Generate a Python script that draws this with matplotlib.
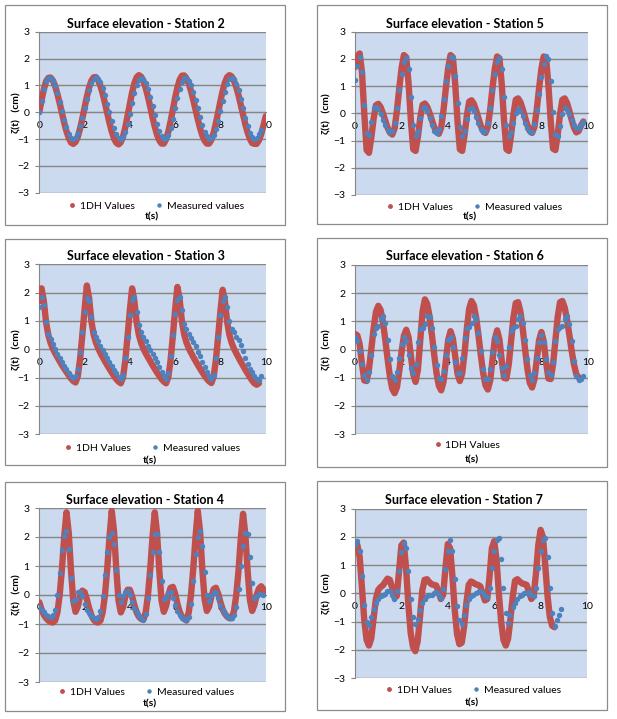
import matplotlib
matplotlib.use("Agg")
import matplotlib.pyplot as plt
import numpy as np
from matplotlib.patches import Rectangle
from matplotlib.lines import Line2D

plt.rcParams['font.family'] = ['Lato', 'DejaVu Sans']

W, H = 617, 719
dt = 0.1  # sampling step of the series below (s)

# ---- Station 2 ----
st2_model = [0.0, 0.45, 0.85, 1.15, 1.28, 1.29, 1.18, 0.97, 0.68, 0.34,
             -0.03, -0.39, -0.71, -0.96, -1.13, -1.18, -1.11, -0.92, -0.61, -0.24,
             0.17, 0.57, 0.92, 1.17, 1.30, 1.31, 1.19, 0.98, 0.69, 0.34,
             -0.03, -0.40, -0.72, -0.98, -1.14, -1.20, -1.12, -0.90, -0.56, -0.13,
             0.31, 0.74, 1.08, 1.30, 1.38, 1.32, 1.16, 0.90, 0.57, 0.20,
             -0.19, -0.54, -0.84, -1.05, -1.17, -1.17, -1.01, -0.72, -0.34, 0.10,
             0.54, 0.92, 1.21, 1.36, 1.37, 1.26, 1.07, 0.79, 0.46, 0.10,
             -0.26, -0.59, -0.87, -1.06, -1.17, -1.17, -1.03, -0.77, -0.41, -0.01,
             0.41, 0.80, 1.11, 1.31, 1.38, 1.33, 1.17, 0.93, 0.63, 0.27,
             -0.09, -0.45, -0.75, -0.99, -1.15, -1.18, -1.18, -1.05, -0.82, -0.50,
             -0.15]
st2_meas = [0.0, 0.40, 0.85, 1.15, 1.28, 1.27, 1.17, 0.98, 0.71, 0.39,
            0.05, -0.28, -0.57, -0.80, -0.95, -1.00, -0.94, -0.78, -0.53, -0.21,
            0.15, 0.51, 0.83, 1.08, 1.24, 1.30, 1.25, 1.12, 0.90, 0.63,
            0.31, -0.01, -0.33, -0.60, -0.82, -0.95, -1.00, -0.93, -0.73, -0.43,
            -0.06, 0.34, 0.71, 1.01, 1.21, 1.28, 1.23, 1.08, 0.85, 0.56,
            0.23, -0.11, -0.43, -0.70, -0.89, -0.99, -0.98, -0.85, -0.59, -0.25,
            0.14, 0.53, 0.87, 1.13, 1.26, 1.27, 1.18, 1.00, 0.76, 0.46,
            0.14, -0.18, -0.48, -0.72, -0.90, -0.99, -0.98, -0.86, -0.63, -0.32,
            0.05, 0.42, 0.76, 1.04, 1.22, 1.28, 1.22, 1.06, 0.81, 0.49,
            0.14, -0.21, -0.53, -0.78, -0.94, -1.00, -0.95, -0.82, -0.65]

# ---- Station 5 ----
st5_model = [1.70, 2.10, 2.20, 1.51, -0.03, -1.35, -1.45, -0.89, -0.19, 0.30,
             0.35, 0.23, 0.00, -0.27, -0.53, -0.71, -0.78, -0.55, 0.11, 0.92,
             1.67, 2.14, 2.06, 1.09, -0.29, -1.32, -1.38, -0.85, -0.17, 0.31,
             0.36, 0.24, 0.01, -0.25, -0.51, -0.69, -0.75, -0.52, 0.13, 0.93,
             1.67, 2.14, 2.06, 1.09, -0.29, -1.32, -1.38, -0.81, -0.09, 0.43,
             0.48, 0.35, 0.10, -0.18, -0.46, -0.65, -0.72, -0.50, 0.13, 0.92,
             1.64, 2.09, 2.02, 1.05, -0.30, -1.32, -1.38, -0.79, -0.04, 0.50,
             0.55, 0.41, 0.15, -0.15, -0.44, -0.65, -0.72, -0.50, 0.13, 0.92,
             1.64, 2.09, 2.02, 1.06, -0.29, -1.30, -1.35, -0.78, -0.03, 0.50,
             0.55, 0.38, 0.09, -0.24, -0.53, -0.70, -0.65, -0.45, -0.30]
st5_meas = [1.23, 1.75, 2.08, 1.53, 0.29, -0.71, -0.78, -0.30, 0.18, 0.24,
            0.15, -0.02, -0.23, -0.43, -0.60, -0.69, -0.66, -0.36, 0.19, 0.84,
            1.46, 1.89, 2.05, 1.63, 0.60, -0.43, -0.85, -0.64, -0.18, 0.20,
            0.23, 0.08, -0.17, -0.43, -0.64, -0.72, -0.56, -0.11, 0.53, 1.20,
            1.75, 2.08, 2.03, 1.38, 0.38, -0.50, -0.85, -0.65, -0.21, 0.15,
            0.18, 0.07, -0.13, -0.37, -0.57, -0.68, -0.66, -0.36, 0.19, 0.84,
            1.46, 1.89, 2.05, 1.63, 0.60, -0.43, -0.85, -0.70, -0.35, 0.00,
            0.15, 0.08, -0.10, -0.34, -0.55, -0.68, -0.67, -0.40, 0.11, 0.71,
            1.32, 1.82, 2.09, 2.01, 1.19, 0.05, -0.77, -0.83, -0.47, -0.02,
            0.18, 0.12, -0.04, -0.24, -0.42, -0.54, -0.52, -0.42, -0.32]

# ---- Station 3 ----
st3_model = [1.70, 2.15, 1.70, 0.95, 0.50, 0.22, 0.02, -0.14, -0.28, -0.42,
             -0.56, -0.68, -0.80, -0.92, -1.03, -1.12, -1.17, -0.95, -0.35, 0.50,
             1.40, 2.25, 1.80, 1.00, 0.52, 0.24, 0.04, -0.13, -0.28, -0.42,
             -0.56, -0.69, -0.82, -0.94, -1.05, -1.14, -1.20, -0.98, -0.38, 0.48,
             1.38, 2.15, 1.70, 0.95, 0.50, 0.22, 0.02, -0.14, -0.28, -0.42,
             -0.56, -0.69, -0.82, -0.94, -1.05, -1.14, -1.20, -0.98, -0.38, 0.48,
             1.40, 2.20, 1.75, 0.98, 0.52, 0.24, 0.04, -0.12, -0.27, -0.41,
             -0.55, -0.68, -0.81, -0.93, -1.04, -1.13, -1.19, -0.97, -0.38, 0.46,
             1.35, 2.10, 1.68, 0.95, 0.50, 0.22, 0.02, -0.14, -0.29, -0.44,
             -0.58, -0.72, -0.85, -0.98, -1.10, -1.20, -1.25, -1.20]
st3_meas = [1.50, 1.85, 1.55, 0.95, 0.55, 0.35, 0.20, 0.02, -0.15, -0.30,
            -0.45, -0.58, -0.70, -0.82, -0.93, -1.00, -0.95, -0.70, -0.10, 0.60,
            1.30, 1.80, 1.70, 1.15, 0.62, 0.42, 0.28, 0.12, -0.02, -0.18,
            -0.30, -0.45, -0.60, -0.72, -0.85, -0.97, -1.05, -0.90, -0.30, 0.45,
            1.20, 1.75, 1.85, 1.30, 0.85, 0.60, 0.45, 0.28, 0.12, -0.02,
            -0.15, -0.30, -0.45, -0.62, -0.80, -0.95, -1.05, -0.85, -0.25, 0.50,
            1.25, 1.75, 1.85, 1.40, 0.90, 0.70, 0.55, 0.40, 0.25, 0.10,
            -0.08, -0.25, -0.45, -0.62, -0.80, -0.95, -1.05, -0.90, -0.30, 0.45,
            1.20, 1.70, 1.85, 1.50, 1.00, 0.72, 0.60, 0.45, 0.32, 0.15,
            -0.05, -0.30, -0.52, -0.68, -0.80, -0.95, -1.05, -1.10, -0.95]

# ---- Station 6 ----
st6_model = [0.55, 0.50, 0.19, -0.51, -1.10, -1.12, -0.69, 0.01, 0.75, 1.34,
             1.55, 1.40, 0.97, 0.34, -0.34, -0.97, -1.40, -1.55, -1.34, -0.77,
             -0.08, 0.49, 0.70, 0.43, -0.23, -0.88, -1.15, -0.72, 0.32, 1.35,
             1.78, 1.62, 1.17, 0.52, -0.19, -0.84, -1.29, -1.45, -1.14, -0.40,
             0.34, 0.65, 0.39, -0.24, -0.86, -1.12, -0.85, -0.14, 0.74, 1.45,
             1.72, 1.57, 1.13, 0.50, -0.20, -0.83, -1.27, -1.42, -1.11, -0.37,
             0.37, 0.68, 0.35, -0.41, -1.01, -1.03, -0.52, 0.31, 1.14, 1.65,
             1.68, 1.34, 0.73, 0.00, -0.69, -1.18, -1.35, -1.06, -0.37, 0.33,
             0.62, 0.29, -0.44, -1.03, -1.05, -0.53, 0.31, 1.16, 1.68, 1.72,
             1.49, 1.06, 0.52, -0.05, -0.54, -0.88, -1.00]
st6_meas = [0.45, 0.30, -0.05, -0.50, -0.90, -1.10, -0.80, -0.20, 0.55, 0.78,
            0.82, 1.10, 1.20, 0.95, 0.35, -0.35, -0.95, -1.08, -0.80, -0.30,
            0.20, 0.45, 0.30, -0.20, -0.65, -0.85, -0.50, 0.25, 0.72, 0.78,
            0.90, 1.20, 1.15, 0.75, 0.10, -0.55, -1.00, -1.05, -0.75, -0.20,
            0.35, 0.45, 0.10, -0.45, -0.85, -0.82, -0.30, 0.40, 0.75, 0.80,
            0.95, 1.20, 1.10, 0.60, -0.05, -0.70, -1.05, -1.05, -0.70, -0.10,
            0.45, 0.30, -0.20, -0.65, -0.90, -0.60, 0.10, 0.65, 0.78, 0.85,
            1.10, 1.20, 0.95, 0.35, -0.35, -0.90, -1.10, -0.85, -0.30, 0.25,
            0.50, 0.25, -0.35, -0.80, -0.90, -0.45, 0.30, 0.72, 0.80, 0.85,
            1.10, 1.20, 0.90, 0.30, -0.40, -0.95, -1.10, -1.05, -0.95]

# ---- Station 4 ----
st4_model = [-0.25, -0.50, -0.68, -0.80, -0.88, -0.93, -0.95, -0.88, -0.60, 0.00,
             0.90, 2.00, 2.85, 2.15, 0.85, -0.20, -0.58, -0.40, -0.05, 0.15,
             0.10, -0.15, -0.45, -0.70, -0.85, -0.93, -0.95, -0.88, -0.60, 0.00,
             0.90, 2.00, 2.90, 2.20, 0.90, -0.20, -0.60, -0.42, -0.05, 0.18,
             0.18, -0.05, -0.35, -0.60, -0.75, -0.83, -0.85, -0.60, 0.00, 0.90,
             2.00, 2.85, 2.15, 0.85, -0.20, -0.58, -0.38, 0.00, 0.25, 0.28,
             0.05, -0.30, -0.58, -0.75, -0.83, -0.88, -0.60, 0.00, 0.90, 2.00,
             2.90, 2.20, 0.90, -0.15, -0.55, -0.40, -0.05, 0.20, 0.25, 0.05,
             -0.25, -0.50, -0.65, -0.75, -0.80, -0.80, -0.55, 0.00, 0.85, 1.95,
             2.80, 2.10, 0.85, -0.15, -0.55, -0.35, 0.00, 0.22, 0.30, 0.20,
             0.05]
st4_meas = [-0.40, -0.50, -0.60, -0.68, -0.73, -0.75, -0.70, -0.50, 0.00, 0.75,
            1.55, 2.05, 2.20, 1.60, 0.60, -0.20, -0.15, 0.10, 0.12, -0.05,
            -0.30, -0.50, -0.62, -0.72, -0.80, -0.82, -0.75, -0.55, -0.05, 0.70,
            1.50, 2.00, 2.15, 1.75, 0.85, 0.00, -0.25, -0.05, 0.12, 0.15,
            0.00, -0.25, -0.45, -0.60, -0.72, -0.80, -0.85, -0.65, -0.10, 0.70,
            1.50, 2.10, 2.10, 1.50, 0.50, -0.15, -0.10, 0.08, 0.10, -0.10,
            -0.35, -0.55, -0.68, -0.78, -0.83, -0.85, -0.75, -0.30, 0.50, 1.40,
            2.00, 2.20, 1.70, 0.80, 0.00, -0.20, -0.05, 0.10, 0.08, -0.12,
            -0.35, -0.52, -0.65, -0.73, -0.78, -0.80, -0.70, -0.40, 0.20, 1.00,
            1.70, 2.15, 2.10, 1.30, 0.40, -0.10, -0.05, 0.05, 0.05, 0.00]

# ---- Station 7 ----
st7_model = [1.65, 1.72, 1.30, 0.20, -0.95, -1.65, -1.85, -1.60, -0.90, -0.20,
             0.12, 0.22, 0.28, 0.40, 0.52, 0.48, 0.20, -0.15, -0.10, 0.80,
             1.70, 1.80, 0.90, -0.40, -1.40, -1.90, -2.05, -1.70, -0.85, 0.10,
             0.48, 0.50, 0.40, 0.32, 0.30, 0.28, 0.05, -0.20, -0.05, 0.90,
             1.75, 1.60, 0.60, -0.60, -1.45, -1.80, -1.75, -1.20, -0.35, 0.30,
             0.42, 0.38, 0.32, 0.30, 0.25, 0.00, -0.25, -0.20, 0.60, 1.60,
             1.85, 1.20, 0.00, -1.00, -1.65, -1.85, -1.60, -0.90, -0.10, 0.45,
             0.50, 0.42, 0.35, 0.33, 0.30, 0.05, -0.20, -0.10, 0.70, 1.70,
             2.25, 2.00, 1.00, -0.10, -0.85, -1.15, -1.20]
st7_meas = [1.72, 1.85, 1.50, 0.60, -0.40, -1.00, -1.12, -0.85, -0.55, -0.35,
            -0.20, -0.10, -0.05, -0.02, 0.08, 0.10, -0.05, -0.20, 0.10, 0.80,
            1.45, 1.80, 1.60, 0.80, -0.20, -0.85, -1.10, -0.90, -0.60, -0.35,
            -0.20, -0.10, -0.05, -0.05, 0.00, 0.05, -0.05, -0.15, 0.15, 0.85,
            1.50, 1.90, 1.50, 0.50, -0.45, -0.95, -1.10, -0.75, -0.40, -0.20,
            -0.10, -0.05, 0.00, 0.05, 0.10, 0.00, -0.10, -0.12, 0.20, 0.90,
            1.50, 1.90, 1.95, 1.20, 0.20, -0.70, -1.05, -0.75, -0.50, -0.35,
            -0.20, -0.10, -0.05, 0.00, 0.03, 0.05, -0.05, -0.10, 0.20, 0.90,
            1.50, 1.90, 1.95, 1.30, 0.20, -0.70, -1.15, -0.95, -0.75, -0.55]

RED = '#c0504d'
BLUE = '#4f81bd'
GRID = '#868686'
BG = '#cbdaee'

# station, model, measured, legend shows measured?, plot box px (l, t, r, b), frame px (l, t, r, b),
# title y, legend centre (x, y), xlabel centre (x, y), ylabel x
panels = [
    (2, st2_model, st2_meas, True, (39.3, 31.7, 265.7, 192.7), (5, 5, 285, 225), 24, (156, 206), (152, 217), 17),
    (5, st5_model, st5_meas, True, (355, 31.7, 588, 195), (317, 5, 607, 224), 24, (474, 207), (470, 217), 327),
    (3, st3_model, st3_meas, True, (39.3, 264.3, 265.7, 434.3), (5, 239, 285, 465), 256, (152, 448), (150, 460.5), 17),
    (6, st6_model, st6_meas, False, (355, 265, 588, 434), (317, 238, 607, 466.5), 256, (467, 445), (472, 460), 327),
    (4, st4_model, st4_meas, True, (39.3, 508, 265.7, 682), (5, 482, 285, 711), 500, (146, 692), (150, 704), 17),
    (7, st7_model, st7_meas, True, (355, 508.7, 587, 678), (317, 481, 607, 710), 500, (473, 690), (472, 703), 327),
]

fig = plt.figure(figsize=(W / 100, H / 100), dpi=100)


def fx(x):
    return x / W


def fy(y):
    return 1 - y / H


for st, model, meas, show_meas, box, frame, ty, leg, xl, ylx in panels:
    fl, ft, fr, fb = frame
    fig.add_artist(Rectangle((fx(fl), fy(fb)), fx(fr - fl), (fb - ft) / H,
                             transform=fig.transFigure, fill=False, ec='#8c8c8c', lw=0.9))
    l, t, r, b = box
    ax = fig.add_axes([fx(l), fy(b), fx(r - l), (b - t) / H])
    ax.set_facecolor(BG)
    ax.set_xlim(0, 10)
    ax.set_ylim(-3, 3)
    ax.set_xticks(range(0, 11, 2))
    ax.set_yticks(range(-3, 4))
    ax.grid(axis='y', color=GRID, lw=1.0)
    ax.set_axisbelow(True)
    for s in ['top', 'right']:
        ax.spines[s].set_visible(False)
    ax.spines['left'].set_color(GRID)
    ax.spines['bottom'].set_position(('data', 0))
    ax.spines['bottom'].set_color(GRID)
    ax.tick_params(axis='y', length=3, color=GRID, labelsize=7.5, pad=4)
    ax.tick_params(axis='x', length=0, labelsize=7.5, pad=6)

    tm = np.arange(len(model)) * dt
    tb = np.arange(len(meas)) * dt
    ax.plot(tm, model, color=RED, lw=4.6, solid_capstyle='round', solid_joinstyle='round', zorder=3)
    ax.plot(tb, meas, 'o', ms=3.9, color=BLUE, mec='none', zorder=4)

    fig.text(fx((l + r) / 2 - 7), fy(ty), 'Surface elevation - Station %d' % st,
             ha='center', va='center', fontsize=9, fontweight='bold')
    fig.text(fx(ylx), fy((t + b) / 2), 'ζ(t)   (cm)', rotation=90,
             ha='center', va='center', fontsize=7.5, fontweight='bold')
    fig.text(fx(xl[0]), fy(xl[1]), 't(s)', ha='center', va='center', fontsize=7.5, fontweight='bold')

    handles = [Line2D([], [], ls='none', marker='o', ms=3.5, color=RED, mec='none')]
    labels = ['1DH Values']
    if show_meas:
        handles.append(Line2D([], [], ls='none', marker='o', ms=3.2, color=BLUE, mec='none'))
        labels.append('Measured values')
    fig.legend(handles, labels, loc='center', bbox_to_anchor=(fx(leg[0]), fy(leg[1])),
               ncol=2, frameon=False, fontsize=7.5, handlelength=0.8, handletextpad=0.3,
               columnspacing=2.0, borderpad=0, borderaxespad=0)

fig.savefig('out.png', dpi=100)
